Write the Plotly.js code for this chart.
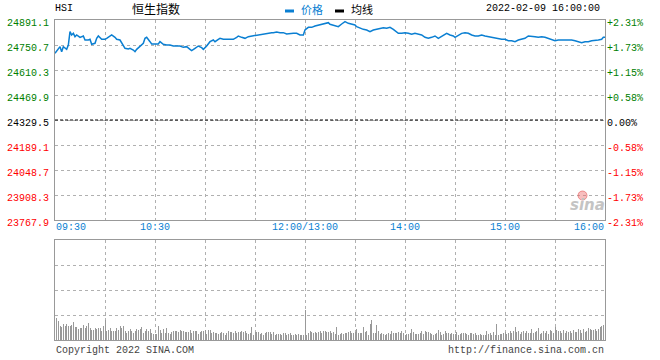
<!DOCTYPE html>
<html><head><meta charset="utf-8">
<script src="https://cdn.plot.ly/plotly-3.0.1.min.js"></script>
<style>html,body{margin:0;padding:0;background:#fff}#chart{width:660px;height:360px}</style>
</head><body><div id="chart"></div>
<script>
// ---- data ----
const symbol = 'HSI';
const indexName = '恒生指数';
const timestamp = '2022-02-09 16:00:00';
const prevClose = 24329.5;

// minute index since 09:30 (lunch break removed: 150 = 12:00/13:00, 330 = 16:00)
const priceMinutes = [0,2,3,4,5,7,8,9,10,11,12,13,15,17,18,20,21,22,24,25,26,28,30,31,33,34,36,37,39,40,42,44,45,47,48,49,51,53,54,55,57,58,60,62,63,65,67,69,71,73,75,77,79,81,82,84,86,88,89,91,93,95,96,98,99,101,103,105,107,109,110,112,114,116,118,120,122,124,126,128,130,131,133,135,137,139,141,143,145,147,149,150,152,154,156,158,160,162,164,165,167,170,172,174,176,178,180,181,183,185,187,189,191,193,195,197,199,201,203,205,206,208,210,212,214,216,218,220,222,224,226,228,230,232,234,235,237,239,240,242,244,246,248,250,252,254,256,258,260,262,264,266,268,270,272,274,276,278,280,282,284,286,288,290,292,294,296,298,300,302,304,306,308,310,312,314,316,318,320,322,324,326,328,329,330];
const priceValues = [24703.9,24732.0,24741.3,24713.3,24741.3,24726.4,24750.7,24825.6,24806.9,24816.2,24797.5,24806.9,24793.8,24801.2,24778.8,24778.8,24782.5,24754.4,24760.1,24788.1,24801.2,24782.5,24782.5,24788.1,24801.2,24806.9,24793.8,24782.5,24778.8,24760.1,24732.0,24728.2,24732.0,24722.6,24713.3,24726.4,24741.3,24760.1,24788.1,24793.8,24769.4,24756.3,24756.3,24756.3,24769.4,24754.4,24750.7,24750.7,24745.1,24745.1,24745.1,24737.6,24741.3,24726.4,24718.9,24732.0,24745.1,24735.7,24726.4,24745.1,24769.4,24778.8,24769.4,24782.5,24788.1,24782.5,24782.5,24782.5,24782.5,24793.8,24801.2,24793.8,24788.1,24797.5,24801.2,24801.2,24806.9,24812.5,24812.5,24820.0,24820.0,24820.0,24823.7,24820.0,24820.0,24812.5,24816.2,24816.2,24816.2,24806.9,24806.9,24834.9,24849.9,24849.9,24857.4,24863.0,24868.6,24872.4,24876.1,24867.0,24863.0,24853.7,24868.6,24881.7,24872.4,24868.6,24863.0,24853.7,24844.3,24838.7,24834.9,24825.6,24834.9,24838.7,24844.3,24848.0,24844.3,24849.9,24838.7,24825.6,24816.2,24816.2,24820.0,24816.2,24810.6,24816.2,24812.5,24806.9,24793.8,24788.1,24793.8,24801.2,24788.1,24797.5,24806.9,24816.2,24806.9,24801.2,24793.8,24806.9,24816.2,24820.0,24816.2,24806.9,24801.2,24801.2,24806.9,24801.2,24797.5,24793.8,24788.1,24782.5,24782.5,24782.5,24775.0,24775.0,24769.4,24778.8,24782.5,24788.1,24801.2,24801.2,24797.5,24793.8,24797.5,24793.8,24788.1,24782.5,24775.0,24778.8,24778.8,24782.5,24778.8,24778.8,24775.0,24769.4,24763.8,24769.4,24769.4,24775.0,24775.0,24778.8,24782.5,24793.8,24793.8];

// per-minute volume (arbitrary units), minutes 1..330
const volumeValues = [
220,193,137,130,160,137,160,137,137,153,
180,130,130,113,120,120,147,120,137,170,
120,103,103,120,113,120,120,93,137,200,
87,103,120,93,93,93,120,97,137,120,
137,93,70,87,110,87,70,87,113,103,
113,127,70,87,113,87,110,70,60,60,
60,137,103,70,113,70,120,70,60,80,
93,93,93,80,103,87,93,80,77,80,
103,70,87,87,93,60,80,87,87,103,
60,103,103,70,80,70,70,60,70,80,
70,47,70,93,80,80,70,87,70,80,
80,87,80,93,70,60,70,130,53,80,
80,80,60,70,47,70,80,80,80,60,
80,47,60,60,60,47,70,70,47,60,
70,47,53,60,47,60,47,47,53,303,
47,70,87,80,70,80,70,80,93,70,
93,87,80,80,87,70,80,60,130,53,
60,70,60,70,70,80,93,70,70,80,
113,70,70,70,130,80,93,53,160,203,
70,70,147,87,60,70,60,47,60,70,
60,93,70,70,70,80,70,87,70,53,
60,60,70,113,80,60,60,60,70,87,
60,93,80,80,70,60,53,60,70,103,
80,53,60,93,70,70,60,70,60,60,
80,47,60,70,70,70,60,47,70,70,
60,70,53,47,60,47,53,47,93,60,
70,47,80,47,160,53,60,60,70,80,
60,70,93,70,87,130,80,87,60,80,
93,70,87,70,70,113,70,80,93,120,
60,70,93,70,93,60,103,87,70,130,
103,87,93,70,103,70,93,80,87,70,
103,80,80,113,103,70,113,80,93,120,
113,103,103,113,93,113,127,137,153,227];

const priceTickValues = [23767.9,23908.3,24048.7,24189.1,24329.5,24469.9,24610.3,24750.7,24891.1];
const priceTickLabels = ['23767.9','23908.3','24048.7','24189.1','24329.5','24469.9','24610.3','24750.7','24891.1'];
const pctTickLabels = ['-2.31%','-1.73%','-1.15%','-0.58%','0.00%','+0.58%','+1.15%','+1.73%','+2.31%'];
const timeTickMinutes = [0,60,150,210,270,330];
const timeTickLabels = ['09:30','10:30','12:00/13:00','14:00','15:00','16:00'];
const gridMinutes = [0,30,60,90,120,150,180,210,240,270,300,330];
const volumeGrid = [0,250,500,750,1000];
const legendNames = ['价格','均线'];
const copyrightText = 'Copyright 2022 SINA.COM';
const siteText = 'http://finance.sina.com.cn';

// ---- styles ----
const BLUE = '#0a7fd2';
const GRID = '#b0b0b0';
const BORDER = '#999999';
const MONO = 'Liberation Mono, DejaVu Sans Mono, monospace';
const CJK = 'Noto Sans CJK SC, sans-serif';

const volumeMinutes = volumeValues.map((v, i) => i + 1);

function tickColor(v) {
  if (Math.abs(v - prevClose) < 1e-6) return '#000000';
  return v > prevClose ? '#008000' : '#ff0000';
}
const leftText = priceTickLabels.map((t, i) => `<span style="color:${tickColor(priceTickValues[i])}">${t}</span>`);
const rightText = pctTickLabels.map((t, i) => `<span style="color:${tickColor(priceTickValues[i])}">${t}</span>`);

const priceRange = [priceTickValues[0], priceTickValues[priceTickValues.length - 1]];

const traces = [
  {x: priceMinutes, y: priceValues, type: 'scatter', mode: 'lines',
   line: {color: BLUE, width: 1.5}, xaxis: 'x', yaxis: 'y', hoverinfo: 'skip'},
  {x: priceMinutes, y: priceValues, type: 'scatter', mode: 'lines',
   line: {color: 'rgba(0,0,0,0)', width: 0}, xaxis: 'x', yaxis: 'y2', hoverinfo: 'skip'},
  {x: volumeMinutes, y: volumeValues, type: 'bar', width: 0.6,
   marker: {color: '#999999', line: {width: 0}}, xaxis: 'x2', yaxis: 'y3', hoverinfo: 'skip'}
];

// pixel -> paper helpers (margins l55 r55 t20 b20)
const px = p => (p - 55) / 550;
const py = p => (340 - p) / 320;

const annotations = [];
timeTickMinutes.forEach((m, i) => {
  annotations.push({x: m, xref: 'x', y: py(227), yref: 'paper', text: timeTickLabels[i], showarrow: false,
    xanchor: i === 0 ? 'left' : (i === timeTickMinutes.length - 1 ? 'right' : 'center'), yanchor: 'middle',
    font: {family: MONO, size: 10, color: BLUE}, borderpad: 0});
});
annotations.push(
  {x: px(54), y: py(9), xref: 'paper', yref: 'paper', text: symbol, showarrow: false, xanchor: 'left', yanchor: 'middle',
   font: {family: MONO, size: 10, color: '#000'}, borderpad: 0},
  {x: px(131), y: py(9), xref: 'paper', yref: 'paper', text: indexName, showarrow: false, xanchor: 'left', yanchor: 'middle',
   font: {family: CJK, size: 12, color: '#000'}, borderpad: 0},
  {x: px(300), y: py(9), xref: 'paper', yref: 'paper', text: legendNames[0], showarrow: false, xanchor: 'left', yanchor: 'middle',
   font: {family: CJK, size: 11, color: BLUE}, borderpad: 0},
  {x: px(350), y: py(9), xref: 'paper', yref: 'paper', text: legendNames[1], showarrow: false, xanchor: 'left', yanchor: 'middle',
   font: {family: CJK, size: 11, color: '#000'}, borderpad: 0},
  {x: px(601), y: py(9), xref: 'paper', yref: 'paper', text: timestamp, showarrow: false, xanchor: 'right', yanchor: 'middle',
   font: {family: MONO, size: 10, color: '#000'}, borderpad: 0},
  {x: px(55), y: py(350), xref: 'paper', yref: 'paper', text: copyrightText, showarrow: false, xanchor: 'left', yanchor: 'middle',
   font: {family: MONO, size: 10, color: '#444'}, borderpad: 0},
  {x: px(605), y: py(350), xref: 'paper', yref: 'paper', text: siteText, showarrow: false, xanchor: 'right', yanchor: 'middle',
   font: {family: MONO, size: 10, color: '#444'}, borderpad: 0},
  {x: px(587), y: py(205), xref: 'paper', yref: 'paper', text: 'sina', showarrow: false, xanchor: 'center', yanchor: 'middle',
   font: {family: 'DejaVu Sans, sans-serif', size: 15, color: '#c4c4c4', style: 'italic', weight: 'bold'}, borderpad: 0}
);

const shapes = [
  {type: 'line', xref: 'paper', yref: 'y', x0: 0, x1: 1, y0: prevClose, y1: prevClose,
   line: {color: '#000', width: 1, dash: '3px,2px'}},
  {type: 'rect', xref: 'paper', yref: 'paper', x0: px(285), x1: px(294), y0: py(12.5), y1: py(9.5),
   fillcolor: BLUE, line: {width: 0}},
  {type: 'rect', xref: 'paper', yref: 'paper', x0: px(335), x1: px(344), y0: py(12.5), y1: py(9.5),
   fillcolor: '#000', line: {width: 0}},
  {type: 'circle', xref: 'paper', yref: 'paper', x0: px(578), x1: px(587), y0: py(200), y1: py(191),
   fillcolor: 'rgba(240,110,110,0.45)', line: {color: 'rgba(230,90,90,0.6)', width: 1}}
];

const layout = {
  width: 660, height: 360,
  margin: {l: 55, r: 55, t: 20, b: 20, pad: 0},
  paper_bgcolor: '#fff', plot_bgcolor: '#fff',
  showlegend: false,
  xaxis: {domain: [0, 1], anchor: 'y', range: [0, 330], tickvals: gridMinutes, showticklabels: false, ticks: '',
    showgrid: true, gridcolor: GRID, griddash: 'dot', gridwidth: 1, zeroline: false,
    showline: true, mirror: true, linecolor: BORDER, linewidth: 1, fixedrange: true},
  yaxis: {domain: [0.375, 1], anchor: 'x', range: priceRange, tickvals: priceTickValues, ticktext: leftText, ticks: '',
    showgrid: true, gridcolor: GRID, griddash: 'dot', gridwidth: 1, zeroline: false,
    showline: true, mirror: true, linecolor: BORDER, linewidth: 1,
    tickfont: {family: MONO, size: 10}, ticklabelstandoff: 3, ticklabelshift: 2, fixedrange: true},
  yaxis2: {overlaying: 'y', side: 'right', anchor: 'x', range: priceRange, tickvals: priceTickValues, ticktext: rightText, ticks: '',
    showgrid: false, zeroline: false, showline: false,
    tickfont: {family: MONO, size: 10}, ticklabelstandoff: 1, ticklabelshift: 2, fixedrange: true},
  xaxis2: {domain: [0, 1], anchor: 'y3', range: [0, 330], tickvals: gridMinutes, showticklabels: false, ticks: '',
    showgrid: true, gridcolor: GRID, griddash: 'dot', gridwidth: 1, zeroline: false,
    showline: true, mirror: true, linecolor: BORDER, linewidth: 1, fixedrange: true},
  yaxis3: {domain: [0, 0.3125], anchor: 'x2', range: [0, 1000], tickvals: volumeGrid, showticklabels: false, ticks: '',
    showgrid: true, gridcolor: GRID, griddash: 'dot', gridwidth: 1, zeroline: false,
    showline: true, mirror: true, linecolor: BORDER, linewidth: 1, fixedrange: true},
  bargap: 0,
  annotations: annotations,
  shapes: shapes
};

Plotly.newPlot('chart', traces, layout, {displayModeBar: false, staticPlot: true});
</script></body></html>
